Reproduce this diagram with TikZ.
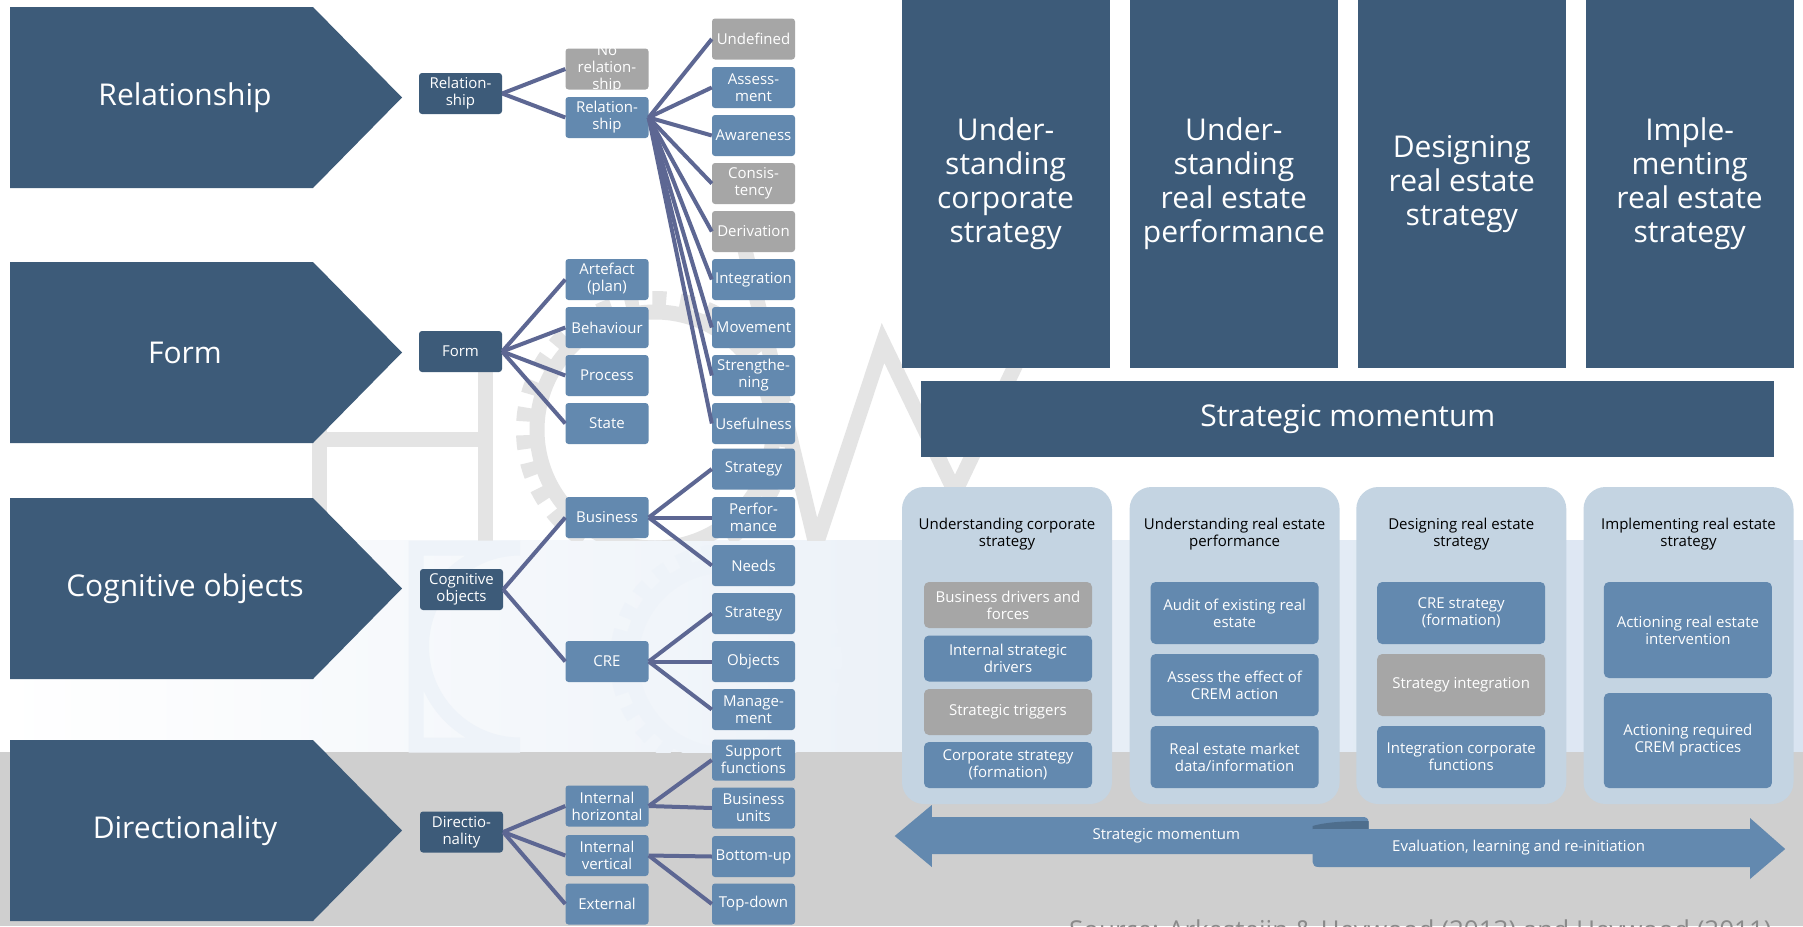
\documentclass[tikz,border=0pt]{standalone}
\usepackage{fontspec}
\setmainfont{Open Sans}
\usetikzlibrary{calc}

\definecolor{navy}{HTML}{3D5B79}
\definecolor{midblue}{HTML}{6389AF}
\definecolor{boxgray}{HTML}{A6A6A6}
\definecolor{linkcol}{HTML}{5D6793}
\definecolor{panelcol}{HTML}{C4D4E2}
\definecolor{bandblue}{HTML}{D9E4F1}
\definecolor{bandgray}{HTML}{CFCFCF}
\definecolor{curlcol}{HTML}{4E6E8D}
\definecolor{sourcecol}{HTML}{8A8A8A}
\definecolor{markgray}{HTML}{E4E4E4}
\definecolor{markpale}{HTML}{EEF3F9}

\tikzset{
  chevron/.style={fill=navy},
  chevtext/.style={text=white, inner sep=0pt, font=\fontsize{30}{34}\selectfont},
  tbox/.style={rounded corners=3pt, minimum width=83pt, minimum height=41pt,
    inner sep=0pt, text=white, align=center, font=\fontsize{15}{17}\selectfont},
  lvlone/.style={tbox, fill=navy},
  bluebox/.style={tbox, fill=midblue},
  graybox/.style={tbox, fill=boxgray},
  link/.style={draw=linkcol, line width=4pt},
  colbox/.style={fill=navy, minimum width=208pt, minimum height=368pt, inner sep=0pt,
    text=white, align=center, font=\fontsize{30}{34}\selectfont},
  barbox/.style={fill=navy, minimum width=853pt, minimum height=76pt, inner sep=0pt,
    text=white, font=\fontsize{30}{34}\selectfont},
  panel/.style={fill=panelcol, rounded corners=22pt, minimum width=210pt,
    minimum height=317pt, inner sep=0pt},
  panelhead/.style={text=black, align=center, inner sep=0pt,
    font=\fontsize{15}{17}\selectfont},
  inbox/.style={rounded corners=5pt, minimum width=168pt, inner sep=0pt,
    text=white, align=center, font=\fontsize{15}{17}\selectfont},
  arrowtext/.style={text=white, inner sep=0pt, font=\fontsize{15}{17}\selectfont},
  markline/.style={draw=markgray, line width=15pt},
  markwhite/.style={draw=markpale, line width=15pt},
}

\begin{document}
\begin{tikzpicture}[x=1pt,y=-1pt]
\useasboundingbox (0,0) rectangle (1803,926);
\clip (0,0) rectangle (1803,926);

% backdrop: white top, pale blue band, grey floor
\fill[white] (0,0) rectangle (1803,926);
\shade[left color=white, right color=bandblue] (0,540) rectangle (1803,752);
\fill[bandgray] (0,752) rectangle (1803,926);

% faint logo lettering in the backdrop
\begin{scope}
  \clip (0,0) rectangle (1803,540);
  \draw[markline] (319,360) -- (319,545);
  \draw[markline] (485,360) -- (485,545);
  \draw[markline] (319,439) -- (485,439);
  \draw[markline] (655,430) circle (118pt);
  \draw[draw=markgray, line width=14pt, dash pattern=on 14pt off 14pt] (655,430) circle (132pt);
  \draw[markline, line join=miter] (745,250) -- (816,545) -- (883,343) -- (955,492) -- (1080,230);
\end{scope}
\begin{scope}
  \clip (0,540) rectangle (1803,752);
  \draw[markwhite] (416,548) -- (416,745) -- (520,745)
    arc[start angle=90, end angle=-90, radius=-98.5pt] -- cycle;
  \draw[markwhite] (726,660) circle (95pt);
  \draw[draw=markpale, line width=14pt, dash pattern=on 13pt off 13pt] (726,660) circle (109pt);
\end{scope}

% ---------- left: four chevrons ----------
\fill[chevron] (10,7) -- (313,7) -- (402,97.5) -- (313,188) -- (10,188) -- cycle;
\fill[chevron] (10,262) -- (313,262) -- (402,352.5) -- (313,443) -- (10,443) -- cycle;
\fill[chevron] (10,498) -- (313,498) -- (402,588.5) -- (313,679) -- (10,679) -- cycle;
\fill[chevron] (10,740) -- (313,740) -- (402,830.5) -- (313,921) -- (10,921) -- cycle;
\node[chevtext] (chRel)  at (185,97.5)  {Relationship};
\node[chevtext] (chForm) at (185,352.5) {Form};
\node[chevtext] (chCog)  at (185,588.5) {Cognitive objects};
\node[chevtext] (chDir)  at (185,830.5) {Directionality};

% ---------- tree: first level ----------
\node[lvlone] (rel1)  at (460.5,93.5)  {Relation-\\ship};
\node[lvlone] (form1) at (460.5,351.5) {Form};
\node[lvlone] (cog1)  at (461.5,589.5) {Cognitive\\objects};
\node[lvlone] (dir1)  at (461.5,832)   {Directio-\\nality};

% ---------- tree: second level ----------
\node[graybox] (norel) at (607,69) {};
\node[text=white, align=center, inner sep=0pt, font=\fontsize{15}{17}\selectfont]
  (noreltext) at (norel) {No\\relation-\\ship};
\node[bluebox] (rel2)    at (607,117.5) {Relation-\\ship};
\node[bluebox] (artef)   at (607,279.5) {Artefact\\(plan)};
\node[bluebox] (behav)   at (607,327.5) {Behaviour};
\node[bluebox] (proc)    at (607,375.5) {Process};
\node[bluebox] (state)   at (607,423.5) {State};
\node[bluebox] (busi)    at (607,517.5) {Business};
\node[bluebox] (cre)     at (607,661.5) {CRE};
\node[bluebox] (inthor)  at (607,806)   {Internal\\horizontal};
\node[bluebox] (intvert) at (607,855.5) {Internal\\vertical};
\node[bluebox] (extern)  at (607,904)   {External};

% ---------- tree: third level ----------
\node[graybox] (undef)  at (753.5,39)    {Undefined};
\node[bluebox] (assess) at (753.5,87.5)  {Assess-\\ment};
\node[bluebox] (aware)  at (753.5,135.5) {Awareness};
\node[graybox] (consis) at (753.5,183.5) {Consis-\\tency};
\node[graybox] (deriv)  at (753.5,231.5) {Derivation};
\node[bluebox] (integ)  at (753.5,279.5) {Integration};
\node[bluebox] (movem)  at (753.5,327.5) {Movement};
\node[bluebox] (streng) at (753.5,375.5) {Strengthe-\\ning};
\node[bluebox] (useful) at (753.5,423.5) {Usefulness};
\node[bluebox] (bstrat) at (753.5,469)   {Strategy};
\node[bluebox] (bperf)  at (753.5,517.5) {Perfor-\\mance};
\node[bluebox] (bneeds) at (753.5,565.5) {Needs};
\node[bluebox] (cstrat) at (753.5,613.5) {Strategy};
\node[bluebox] (cobj)   at (753.5,661.5) {Objects};
\node[bluebox] (cmgmt)  at (753.5,709.5) {Manage-\\ment};
\node[bluebox] (supp)   at (753.5,760)   {Support\\functions};
\node[bluebox] (bunits) at (753.5,808)   {Business\\units};
\node[bluebox] (botup)  at (753.5,856.5) {Bottom-up};
\node[bluebox] (topdn)  at (753.5,904)   {Top-down};

% ---------- tree connectors ----------
\foreach \a/\b in {rel1/norel, rel1/rel2,
    form1/artef, form1/behav, form1/proc, form1/state,
    cog1/busi, cog1/cre,
    dir1/inthor, dir1/intvert, dir1/extern,
    rel2/undef, rel2/assess, rel2/aware, rel2/consis, rel2/deriv,
    rel2/integ, rel2/movem, rel2/streng, rel2/useful,
    busi/bstrat, busi/bperf, busi/bneeds,
    cre/cstrat, cre/cobj, cre/cmgmt,
    inthor/supp, inthor/bunits,
    intvert/botup, intvert/topdn}
  \draw[link] (\a.east) -- (\b.west);

% ---------- right: four phase columns ----------
\node[colbox] (col1) at (1005.6,184) {Under-\\standing\\corporate\\strategy};
\node[colbox] (col2) at (1233.9,184) {Under-\\standing\\real estate\\performance};
\node[colbox] (col3) at (1461.8,184) {Designing\\real estate\\strategy};
\node[colbox] (col4) at (1689.6,184) {Imple-\\menting\\real estate\\strategy};
\node[barbox] (bar) at (1347.9,419) {Strategic momentum};

% ---------- right: four detail panels ----------
\node[panel] (p1) at (1007,645.5) {};
\node[panel] (p2) at (1234.6,645.5) {};
\node[panel] (p3) at (1461.3,645.5) {};
\node[panel] (p4) at (1688.5,645.5) {};
\node[panelhead] (h1) at (1007,534.5)   {Understanding corporate\\strategy};
\node[panelhead] (h2) at (1234.6,534.5) {Understanding real estate\\performance};
\node[panelhead] (h3) at (1461.3,534.5) {Designing real estate\\strategy};
\node[panelhead] (h4) at (1688.5,534.5) {Implementing real estate\\strategy};

\node[inbox, fill=boxgray, minimum height=46pt] (a1) at (1008,605)   {Business drivers and\\forces};
\node[inbox, fill=midblue, minimum height=46pt] (a2) at (1008,658.5) {Internal strategic\\drivers};
\node[inbox, fill=boxgray, minimum height=46pt] (a3) at (1008,712)   {Strategic triggers};
\node[inbox, fill=midblue, minimum height=46pt] (a4) at (1008,765)   {Corporate strategy\\(formation)};

\node[inbox, fill=midblue, minimum height=62pt] (b1) at (1234.6,613) {Audit of existing real\\estate};
\node[inbox, fill=midblue, minimum height=62pt] (b2) at (1234.6,685) {Assess the effect of\\CREM action};
\node[inbox, fill=midblue, minimum height=62pt] (b3) at (1234.6,757) {Real estate market\\data/information};

\node[inbox, fill=midblue, minimum height=62pt] (d1) at (1461.2,613) {CRE strategy\\(formation)};
\node[inbox, fill=boxgray, minimum height=62pt] (d2) at (1461.2,685) {Strategy integration};
\node[inbox, fill=midblue, minimum height=62pt] (d3) at (1461.2,757) {Integration corporate\\functions};

\node[inbox, fill=midblue, minimum height=96pt] (i1) at (1687.9,630)   {Actioning real estate\\intervention};
\node[inbox, fill=midblue, minimum height=95pt] (i2) at (1687.9,740.5) {Actioning required\\CREM practices};

% ---------- bottom: two-way ribbon arrow ----------
\fill[midblue] (894.7,836) -- (931.8,805) -- (931.8,817) -- (1362,817)
  .. controls (1366,817) and (1368.5,818) .. (1368.5,822) -- (1368.5,854)
  -- (931.8,854) -- (931.8,867) -- cycle;
\fill[curlcol] (1312.6,826) .. controls (1326,822) and (1346,821) .. (1368.5,821)
  -- (1368.5,829) -- (1312.6,829) -- cycle;
\fill[midblue] (1312.6,829) -- (1750,829) -- (1750,818) -- (1785.2,849)
  -- (1750,879) -- (1750,867) -- (1318.6,867)
  .. controls (1314.6,867) and (1312.6,865) .. (1312.6,862) -- cycle;
\node[arrowtext] (momtext) at (1166.3,836) {Strategic momentum};
\node[arrowtext] (evaltext) at (1518.6,848) {Evaluation, learning and re-initiation};

% ---------- source line ----------
\node[anchor=base west, inner sep=0pt, text=sourcecol, font=\fontsize{26}{30}\selectfont]
  (source) at (1069,939) {Source: Arkesteijn \& Heywood (2013) and Heywood (2011)};
\end{tikzpicture}
\end{document}
